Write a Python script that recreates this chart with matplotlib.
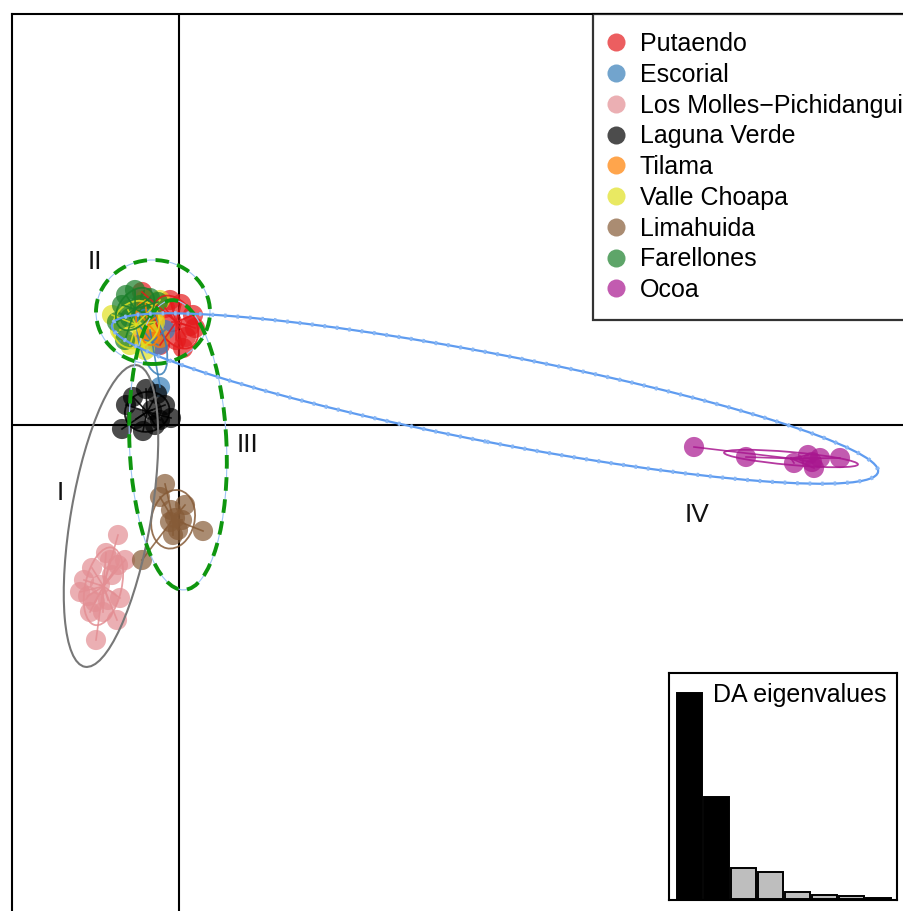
import matplotlib

matplotlib.use("Agg")

import matplotlib.pyplot as plt
import numpy as np
from matplotlib.lines import Line2D
from matplotlib.patches import Ellipse

plt.rcParams["font.family"] = ["Liberation Sans", "DejaVu Sans"]

# DA scores (LD1, LD2), one pair of lists per population
populations = [
    "Putaendo", "Escorial", "Los Molles\u2212Pichidangui", "Laguna Verde",
    "Tilama", "Valle Choapa", "Limahuida", "Farellones", "Ocoa",
]
colors = ["#E41A1C", "#377EB8", "#E38E93", "#000000", "#FF7F00",
          "#E0E020", "#865B37", "#1A7F2A", "#A8168F"]

ld1 = {
    "Putaendo": [0.04, 0.28, 0.22, 0.14, 0.08, -0.14, -0.06, -0.28, -0.74, -0.38, 0.32, -0.18],
    "Escorial": [-0.38, -0.42, -0.58, -0.28, -0.88, -0.68],
    "Los Molles\u2212Pichidangui": [-1.22, -1.46, -1.74, -1.90, -1.22, -1.58, -1.68, -1.42, -1.18,
                                     -1.24, -1.66, -1.82, -1.34, -1.52, -1.78, -1.98, -1.38, -1.08],
    "Laguna Verde": [-0.66, -0.44, -1.06, -0.28, -0.86, -0.38, -1.14, -0.72, -0.16, -0.54, -0.48, -0.92],
    "Tilama": [-0.68, -0.48, -0.62, -0.78, -0.38, -0.82],
    "Valle Choapa": [-1.18, -0.98, -0.68, -0.48, -0.82, -1.34, -0.38, -1.02],
    "Limahuida": [-0.28, -0.38, -0.16, 0.06, -0.02, -0.12, 0.48, -0.74, -0.18, 0.12, -0.08],
    "Farellones": [-1.06, -0.88, -1.14, -0.98, -1.24, -0.78, -0.58, -1.08, -0.62, -0.42],
    "Ocoa": [10.30, 11.34, 12.30, 12.66, 12.82, 13.22, 12.70, 12.58],
}
ld2 = {
    "Putaendo": [2.42, 2.20, 1.98, 1.76, 1.54, 2.06, 1.70, 2.34, 2.66, 1.60, 1.94, 2.50],
    "Escorial": [0.76, 1.60, 1.90, 1.90, 2.10, 1.70],
    "Los Molles\u2212Pichidangui": [-2.20, -2.56, -2.86, -3.10, -2.80, -3.20, -3.54, -3.50, -3.46,
                                     -3.90, -4.30, -3.42, -3.00, -3.74, -3.74, -3.34, -2.70, -2.70],
    "Laguna Verde": [0.72, 0.62, 0.40, 0.40, 0.12, 0.10, -0.08, -0.12, 0.14, 0.30, 0.00, 0.56],
    "Tilama": [2.50, 2.14, 1.86, 1.70, 1.74, 2.26],
    "Valle Choapa": [1.90, 1.60, 1.50, 2.06, 2.00, 2.20, 2.50, 2.30],
    "Limahuida": [-1.18, -1.44, -1.70, -1.90, -2.10, -2.20, -2.12, -2.70, -1.94, -1.60, -1.86],
    "Farellones": [2.60, 2.70, 2.40, 2.14, 2.06, 2.40, 2.54, 1.70, 2.20, 2.46],
    "Ocoa": [-0.44, -0.64, -0.76, -0.74, -0.66, -0.66, -0.86, -0.60],
}

eigenvalues = [2060, 1020, 310, 270, 70, 40, 30, 10]
n_da_kept = 2

# hand-drawn cluster outlines: label, centre, width, height, angle, label position
cluster_names = ["I", "II", "III", "IV"]
cluster_centres = [(-1.36, -1.82), (-0.52, 2.26), (-0.02, -0.40), (6.32, 0.53)]
cluster_sizes = [(6.12, 1.60), (2.28, 2.08), (5.80, 1.94), (15.6, 1.76)]
cluster_angles = [80.2, 0.0, 92.4, -10.86]
cluster_label_pos = [(-2.38, -1.36), (-1.68, 3.26), (1.38, -0.40), (10.36, -1.80)]

W, H = 904, 911
fig = plt.figure(figsize=(W / 100, H / 100), dpi=100)

# main axes run past the right and bottom edges of the picture
px_per_unit = 50.0
ox, oy = 179, 425
left_px, top_px = 12, 14
ax = fig.add_axes([left_px / W, -0.2, 1.2, (H - top_px) / H + 0.2])
right_px = left_px + 1.2 * W
bottom_px = H + 0.2 * H
ax.set_xlim((left_px - ox) / px_per_unit, (right_px - ox) / px_per_unit)
ax.set_ylim((oy - bottom_px) / px_per_unit, (oy - top_px) / px_per_unit)
ax.set_xticks([])
ax.set_yticks([])
for side in ["left", "top"]:
    ax.spines[side].set_linewidth(1.5)
ax.axhline(0, color="black", lw=1.5, zorder=1)
ax.axvline(0, color="black", lw=1.5, zorder=1)

for name, col in zip(populations, colors):
    x = np.array(ld1[name])
    y = np.array(ld2[name])
    ax.scatter(x, y, s=210, color=col, alpha=0.7, edgecolors="none", zorder=3)

for name, col in zip(populations, colors):
    x = np.array(ld1[name])
    y = np.array(ld2[name])
    cx, cy = x.mean(), y.mean()
    for xi, yi in zip(x, y):
        ax.plot([cx, xi], [cy, yi], color=col, lw=1.2, alpha=0.85, zorder=4)
    cov = np.cov(np.vstack([x, y]), bias=True)
    vals, vecs = np.linalg.eigh(cov)
    ang = np.degrees(np.arctan2(vecs[1, 1], vecs[0, 1]))
    ax.add_patch(Ellipse((cx, cy), 2 * 1.5 * np.sqrt(vals[1]), 2 * 1.5 * np.sqrt(vals[0]),
                         angle=ang, fill=False, edgecolor=col, lw=1.3, alpha=0.85, zorder=4))

# cluster outlines
styles = [
    dict(edgecolor="#777777", lw=1.5),
    dict(edgecolor="#0f960f", lw=2.8, linestyle=(0, (3.5, 2.2))),
    dict(edgecolor="#0f960f", lw=2.8, linestyle=(0, (3.5, 2.2))),
    dict(edgecolor="#5f9cf0", lw=1.6),
]
for i in range(len(cluster_names)):
    if i in (1, 2):
        ax.add_patch(Ellipse(cluster_centres[i], *cluster_sizes[i], angle=cluster_angles[i],
                             fill=False, edgecolor="#9cc4f5", lw=0.8, zorder=5))
    ax.add_patch(Ellipse(cluster_centres[i], *cluster_sizes[i], angle=cluster_angles[i],
                         fill=False, zorder=5, **styles[i]))
    if i == 3:
        ax.add_patch(Ellipse(cluster_centres[i], *cluster_sizes[i], angle=cluster_angles[i],
                             fill=False, edgecolor="#8ab8f5", lw=3.0,
                             linestyle=(0, (0.6, 2.4)), zorder=5))
    ax.text(*cluster_label_pos[i], cluster_names[i], fontsize=19, ha="center", va="center",
            color="#111111", zorder=6)

handles = [Line2D([], [], marker="o", linestyle="none", markersize=13, color=c, alpha=0.7,
                  markeredgewidth=0) for c in colors]
leg = fig.legend(handles, populations, loc="upper left",
                 bbox_to_anchor=(593 / W, 1 - top_px / H), borderaxespad=0,
                 fontsize=18, frameon=True, fancybox=False, edgecolor="black",
                 handlelength=0.4, handletextpad=0.76, labelspacing=0.27,
                 borderpad=0.72)
leg.get_frame().set_linewidth(1.6)

# DA eigenvalue inset
iax = fig.add_axes([669 / W, 1 - 900 / H, (897 - 669) / W, (900 - 673) / H])
bar_px = 27.0
pos = np.arange(len(eigenvalues))
bar_colors = ["black" if i < n_da_kept else "#bebebe" for i in pos]
iax.bar(pos, eigenvalues, width=25 / bar_px, align="edge", color=bar_colors,
        edgecolor="black", linewidth=1.4)
iax.set_xlim(-8 / bar_px, (897 - 677) / bar_px)
top = max(eigenvalues)
iax.set_ylim(-top / 206, top * 226 / 206)
iax.set_xticks([])
iax.set_yticks([])
for sp in iax.spines.values():
    sp.set_linewidth(1.5)
iax.text(0.952, 0.956, "DA eigenvalues", transform=iax.transAxes, ha="right", va="top",
         fontsize=18)

fig.savefig("out.png", dpi=100)
